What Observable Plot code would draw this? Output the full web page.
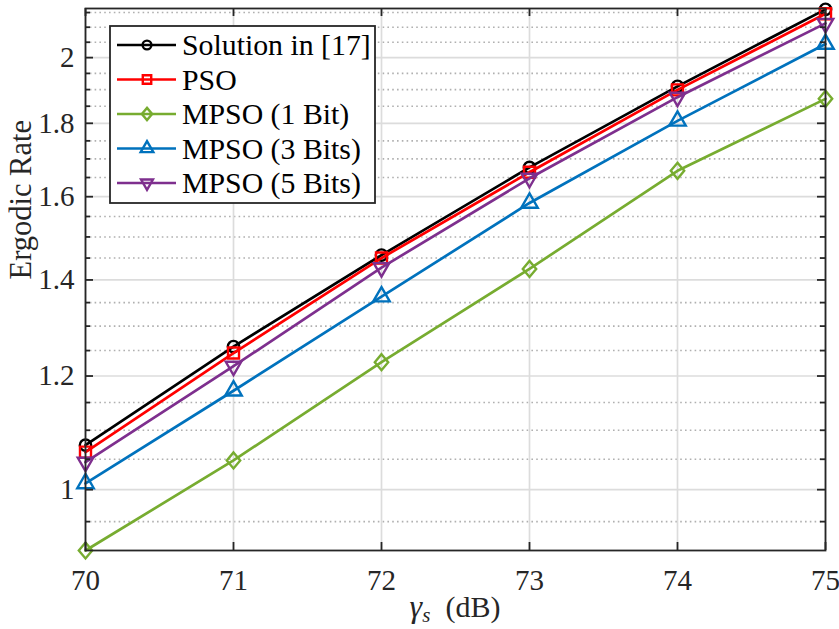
<!DOCTYPE html>
<html>
<head>
<meta charset="utf-8">
<script src="https://cdn.jsdelivr.net/npm/d3@7"></script>
<script src="https://cdn.jsdelivr.net/npm/@observablehq/plot@0.6"></script>
<style>
  html, body { margin: 0; padding: 0; background: #ffffff; }
  #chart { width: 839px; height: 629px; }
  #chart svg, #chart svg text, #chart svg tspan { font-family: 'Liberation Serif', serif !important; }
</style>
</head>
<body>
<div id="chart"></div>
<script>
// ---------- data ----------
const snr = [70, 71, 72, 73, 74, 75];
const solution17 = [1.074, 1.258, 1.457, 1.677, 1.910, 2.161];
const pso        = [1.062, 1.245, 1.450, 1.664, 1.899, 2.146];
const mpso1      = [0.907, 1.048, 1.227, 1.425, 1.668, 1.872];
const mpso3      = [1.010, 1.172, 1.363, 1.584, 1.807, 2.044];
const mpso5      = [1.045, 1.219, 1.428, 1.648, 1.877, 2.113];

const seriesNames  = ["Solution in [17]", "PSO", "MPSO (1 Bit)", "MPSO (3 Bits)", "MPSO (5 Bits)"];
const seriesValues = [solution17, pso, mpso1, mpso3, mpso5];
const seriesColors = ["#000000", "#ff0000", "#77ac30", "#0072bd", "#7e2f8e"];

const xTicks = [70, 71, 72, 73, 74, 75];
const yTicks = [1, 1.2, 1.4, 1.6, 1.8, 2];
const yMinorTicks = [0.95, 1.05, 1.1, 1.15, 1.25, 1.3, 1.35, 1.45, 1.5, 1.55,
                     1.65, 1.7, 1.75, 1.85, 1.9, 1.95, 2.05, 2.1, 2.15];
const xDomain = [70, 75];
const yDomain = [0.907, 2.164];

// ---------- marker shapes (MATLAB-like) ----------
const kOf = size => Math.sqrt(size / (Math.PI * 36));
const symCircle = { draw(c, size) { const k = kOf(size), r = 5.7 * k; c.moveTo(r, 0); c.arc(0, 0, r, 0, 2 * Math.PI); c.closePath(); } };
const symSquare = { draw(c, size) { const k = kOf(size), h = 5.5 * k; c.moveTo(-h, -h); c.lineTo(h, -h); c.lineTo(h, h); c.lineTo(-h, h); c.closePath(); } };
const symDiamond = { draw(c, size) { const k = kOf(size), w = 6.7 * k, h = 8 * k; c.moveTo(0, -h); c.lineTo(w, 0); c.lineTo(0, h); c.lineTo(-w, 0); c.closePath(); } };
const symTriUp = { draw(c, size) { const k = kOf(size), s = 16.5 * k, ht = s * Math.sqrt(3) / 2; c.moveTo(0, -ht * 2 / 3); c.lineTo(s / 2, ht / 3); c.lineTo(-s / 2, ht / 3); c.closePath(); } };
const symTriDown = { draw(c, size) { const k = kOf(size), s = 15.5 * k, ht = s * Math.sqrt(3) / 2; c.moveTo(0, ht * 2 / 3); c.lineTo(s / 2, -ht / 3); c.lineTo(-s / 2, -ht / 3); c.closePath(); } };
const seriesSymbols = [symCircle, symSquare, symDiamond, symTriUp, symTriDown];

// ---------- build ----------
const W = 839, H = 629;
const mL = 85, mR = 14, mT = 8, mB = 79;
const pw = W - mL - mR, ph = H - mT - mB;
const axisColor = "#262626";
const font = "'Liberation Serif', serif";

const seriesMarks = [];
seriesValues.forEach((vals, i) => {
  const rows = snr.map((x, j) => ({ x, y: vals[j] }));
  seriesMarks.push(Plot.line(rows, { x: "x", y: "y", stroke: seriesColors[i], strokeWidth: 2.7, strokeLinejoin: "round" }));
  seriesMarks.push(Plot.dot(rows, { x: "x", y: "y", r: 6, symbol: seriesSymbols[i], stroke: seriesColors[i], strokeWidth: 2.4, fill: "none" }));
});

const chart = Plot.plot({
  width: W, height: H,
  marginLeft: mL, marginRight: mR, marginTop: mT, marginBottom: mB,
  style: { fontFamily: font, fontSize: "29px", color: "#262626", background: "#ffffff" },
  x: { domain: xDomain, type: "linear" },
  y: { domain: yDomain, type: "log" },
  marks: [
    // grid
    Plot.ruleY(yMinorTicks, { stroke: "#b0b0b0", strokeWidth: 1.6, strokeDasharray: "1.6,3.2" }),
    Plot.ruleY(yTicks, { stroke: "#dcdcdc", strokeWidth: 1.7 }),
    Plot.ruleX(xTicks, { stroke: "#dcdcdc", strokeWidth: 1.7 }),
    // data
    ...seriesMarks,
    // frame and inner ticks
    Plot.frame({ stroke: axisColor, strokeWidth: 1.8 }),
    Plot.tickY(yTicks, { insetRight: pw - 8, stroke: axisColor, strokeWidth: 1.8 }),
    Plot.tickY(yTicks, { insetLeft: pw - 8, stroke: axisColor, strokeWidth: 1.8 }),
    Plot.tickY(yMinorTicks, { insetRight: pw - 5, stroke: axisColor, strokeWidth: 1.8 }),
    Plot.tickY(yMinorTicks, { insetLeft: pw - 5, stroke: axisColor, strokeWidth: 1.8 }),
    Plot.tickX(xTicks, { insetTop: ph - 8, stroke: axisColor, strokeWidth: 1.8 }),
    Plot.tickX(xTicks, { insetBottom: ph - 8, stroke: axisColor, strokeWidth: 1.8 }),
    // axes
    Plot.axisY(yTicks, { tickSize: 0, tickPadding: 11, tickFormat: d => String(d), label: null, fontSize: 29, fill: "#262626" }),
    Plot.axisX(xTicks, { tickSize: 0, tickPadding: 19, tickFormat: d => String(d), label: null, fontSize: 29, fill: "#262626" }),
    Plot.text(["Ergodic Rate"], { frameAnchor: "left", rotate: -90, dx: -64, fontSize: 30.5, fill: "#262626", text: d => d })
  ]
});

const svg = d3.select(chart);

// x-axis label with subscript
const xl = svg.append("text")
  .attr("x", mL + pw / 2).attr("y", 617)
  .attr("text-anchor", "middle")
  .attr("font-size", 30).attr("fill", "#262626");
xl.append("tspan").attr("font-style", "italic").attr("font-size", 32).text("γ");
xl.append("tspan").attr("font-style", "italic").attr("font-size", 21).attr("dy", 5).text("s");
xl.append("tspan").attr("dy", -5).text("\u2002(dB)");

// legend
const lg = svg.append("g").attr("transform", "translate(110,26)");
lg.append("rect").attr("width", 265).attr("height", 177)
  .attr("fill", "#ffffff").attr("stroke", axisColor).attr("stroke-width", 1.8);
seriesNames.forEach((name, i) => {
  const cy = 19 + i * 34.5;
  lg.append("line").attr("x1", 7).attr("x2", 66).attr("y1", cy).attr("y2", cy)
    .attr("stroke", seriesColors[i]).attr("stroke-width", 2.7);
  lg.append("path").attr("transform", `translate(37,${cy})`)
    .attr("d", d3.symbol(seriesSymbols[i], Math.PI * 4.6 * 4.6)())
    .attr("fill", "none").attr("stroke", seriesColors[i]).attr("stroke-width", 2.4);
  lg.append("text").attr("x", 72).attr("y", cy + 10)
    .attr("text-anchor", "start")
    .attr("font-size", 29.8).attr("fill", "#000000")
    .text(name);
});

document.getElementById("chart").appendChild(chart);
</script>
</body>
</html>
